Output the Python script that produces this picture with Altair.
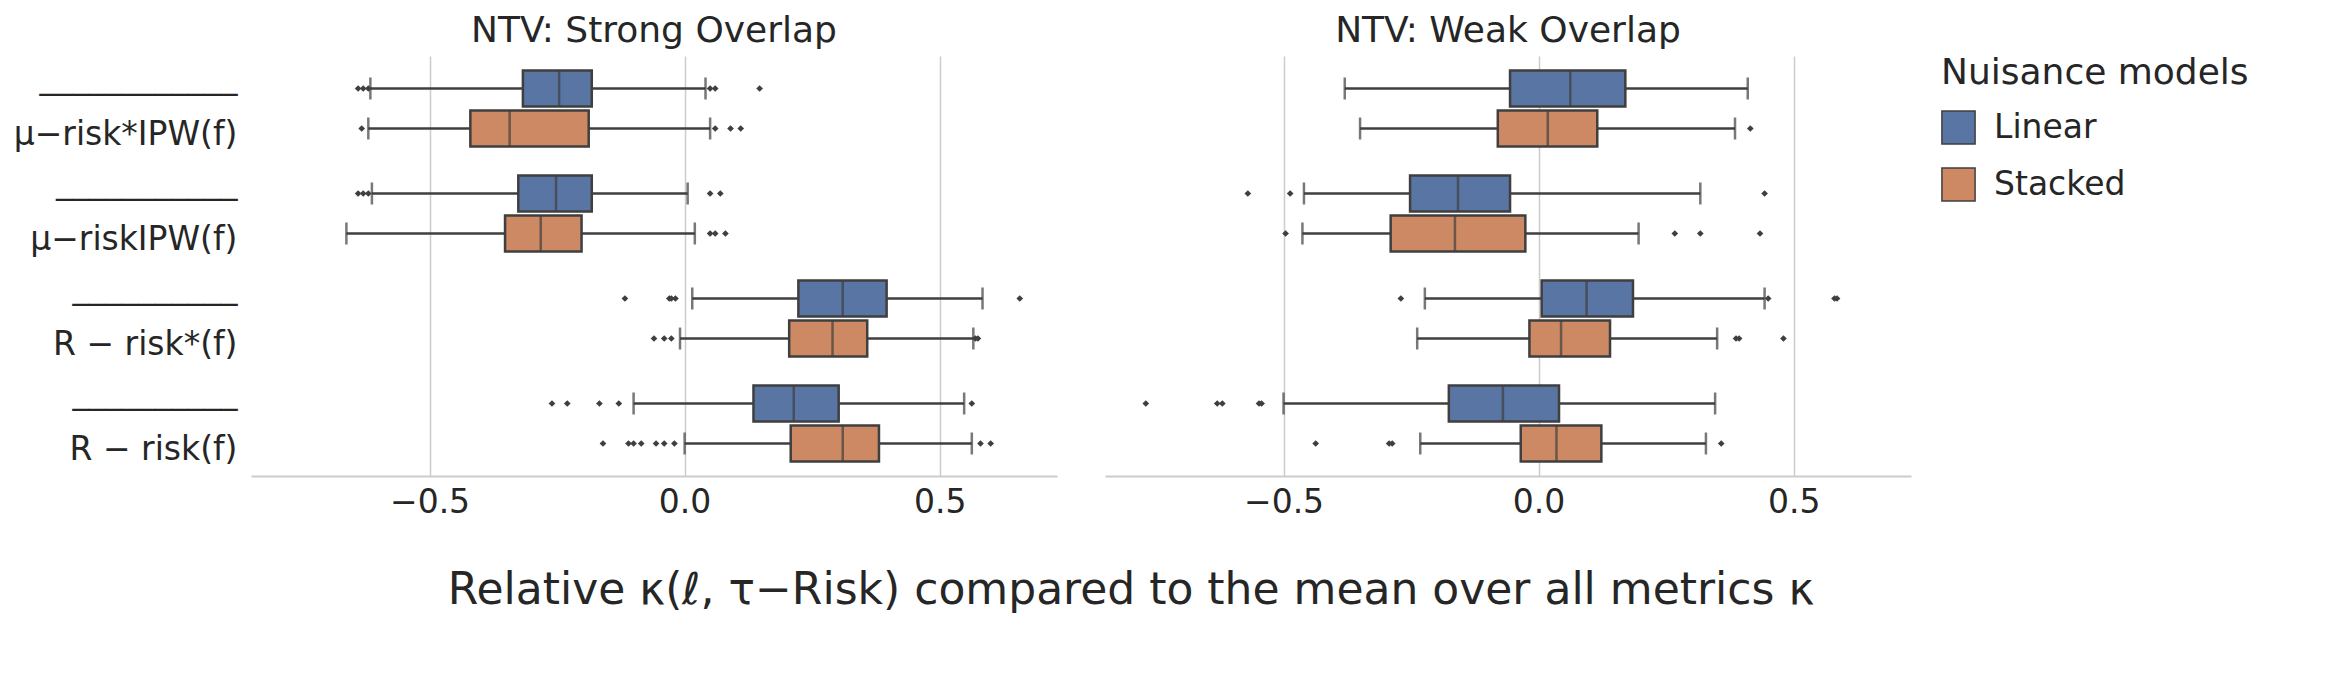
import altair as alt
import pandas as pd

metrics = ["mu_star", "mu", "r_star", "r"]
metric_labels = {
    "mu_star": "‾‾‾‾‾‾‾‾‾‾‾‾|μ−risk*IPW(f)",
    "mu": "‾‾‾‾‾‾‾‾‾‾‾|μ−riskIPW(f)",
    "r_star": "‾‾‾‾‾‾‾‾‾‾|R − risk*(f)",
    "r": "‾‾‾‾‾‾‾‾‾‾|R − risk(f)",
}
models = ["Linear", "Stacked"]
colors = ["#5975a4", "#cc8963"]

row_metric = ["mu_star", "mu_star", "mu", "mu", "r_star", "r_star", "r", "r"]
row_model = ["Linear", "Stacked"] * 4

# strong overlap stats
strong_lo = [-0.616, -0.62, -0.613, -0.663, 0.015, -0.009, -0.10, 0.0]
strong_q1 = [-0.317, -0.42, -0.326, -0.352, 0.223, 0.205, 0.135, 0.208]
strong_med = [-0.246, -0.343, -0.252, -0.282, 0.31, 0.29, 0.214, 0.31]
strong_q3 = [-0.182, -0.188, -0.182, -0.202, 0.396, 0.358, 0.302, 0.381]
strong_hi = [0.041, 0.05, 0.006, 0.02, 0.584, 0.566, 0.548, 0.563]
strong_out = [
    [-0.64, -0.63, -0.62, 0.05, 0.06, 0.147],
    [-0.633, 0.06, 0.09, 0.11],
    [-0.64, -0.63, -0.62, 0.05, 0.07],
    [0.05, 0.06, 0.08],
    [-0.117, -0.03, -0.026, -0.018, 0.657],
    [-0.06, -0.04, -0.026, 0.57, 0.575],
    [-0.26, -0.23, -0.167, -0.129, 0.563],
    [-0.16, -0.11, -0.1, -0.085, -0.056, -0.04, -0.02, 0.58, 0.6],
]

# weak overlap stats
weak_lo = [-0.38, -0.35, -0.46, -0.463, -0.223, -0.238, -0.50, -0.232]
weak_q1 = [-0.056, -0.08, -0.252, -0.29, 0.006, -0.018, -0.176, -0.035]
weak_med = [0.062, 0.018, -0.158, -0.164, 0.094, 0.044, -0.07, 0.035]
weak_q3 = [0.17, 0.115, -0.056, -0.026, 0.185, 0.14, 0.04, 0.123]
weak_hi = [0.41, 0.385, 0.317, 0.196, 0.443, 0.35, 0.346, 0.328]
weak_out = [
    [],
    [0.415],
    [-0.57, -0.487, 0.443],
    [-0.496, 0.267, 0.317, 0.434],
    [-0.27, 0.45, 0.58, 0.585],
    [0.387, 0.393, 0.48],
    [-0.77, -0.63, -0.62, -0.548, -0.543],
    [-0.437, -0.293, -0.287, 0.358],
]

x_domain = [-0.85, 0.73]
axis_font = 33
dark = "#3f3f3f"


def panel(title, lo, q1, med, q3, hi, outs, show_y):
    stats = pd.DataFrame({
        "metric": row_metric, "model": row_model,
        "lo": lo, "q1": q1, "med": med, "q3": q3, "hi": hi,
    })
    out_rows = [
        {"metric": m, "model": mo, "v": v}
        for m, mo, vals in zip(row_metric, row_model, outs) for v in vals
    ]
    outliers = pd.DataFrame(out_rows)

    label_map = "{" + ",".join(f"'{k}':'{v}'" for k, v in metric_labels.items()) + "}"
    y_axis = alt.Axis(
        title=None, ticks=False, domain=False, labelFontSize=axis_font, labelPadding=14,
        labelExpr=f"split({label_map}[datum.value], '|')", labelLimit=0,
        labelLineHeight=26, labelBaseline="middle",
    ) if show_y else None
    y = alt.Y("metric:N", sort=metrics, axis=y_axis, scale=alt.Scale(paddingInner=0.2, paddingOuter=0.1))
    yoff = alt.YOffset("model:N", sort=models, scale=alt.Scale(paddingInner=0.0, paddingOuter=0.05))
    xax = alt.Axis(title=None, values=[-0.5, 0.0, 0.5], format=".1f", labelFontSize=axis_font,
                   ticks=False, domain=True, domainColor="#cccccc", domainWidth=2, labelPadding=10,
                   grid=True, gridColor="#cccccc", gridWidth=1.5)
    x = alt.X("lo:Q", scale=alt.Scale(domain=x_domain, nice=False, zero=False), axis=xax)

    base = alt.Chart(stats).encode(y=y, yOffset=yoff)
    whisk = base.mark_rule(color=dark, strokeWidth=2.5).encode(x=x, x2="hi:Q")
    caps_lo = base.mark_tick(color=dark, thickness=2.5, size=22).encode(x="lo:Q")
    caps_hi = base.mark_tick(color=dark, thickness=2.5, size=22).encode(x="hi:Q")
    box = base.mark_bar(stroke=dark, strokeWidth=2.5, size=36).encode(
        x="q1:Q", x2="q3:Q",
        color=alt.Color("model:N", sort=models, scale=alt.Scale(domain=models, range=colors),
                        legend=alt.Legend(title="Nuisance models", titleFontSize=36, labelFontSize=33,
                                          titleFontWeight="normal", symbolType="square",
                                          symbolSize=1100, symbolStrokeColor=dark,
                                          symbolStrokeWidth=1.5, rowPadding=16, titlePadding=18,
                                          labelLimit=0, titleLimit=0, labelOffset=18)),
    )
    meds = base.mark_tick(color=dark, thickness=2.5, size=36).encode(x="med:Q")
    pts = alt.Chart(outliers).mark_point(shape="diamond", filled=True, color=dark, size=45, opacity=1).encode(
        x="v:Q", y=y, yOffset=yoff,
    )
    return alt.layer(whisk, caps_lo, caps_hi, box, meds, pts).properties(
        width=806, height=420,
        title=alt.TitleParams(title, fontSize=36, fontWeight="normal", color="#262626", offset=6),
    )


left = panel("NTV: Strong Overlap", strong_lo, strong_q1, strong_med, strong_q3, strong_hi, strong_out, True)
right = panel("NTV: Weak Overlap", weak_lo, weak_q1, weak_med, weak_q3, weak_hi, weak_out, False)

chart = (
    alt.hconcat(left, right, spacing=48)
    .properties(
        title=alt.TitleParams(
            "Relative κ(ℓ, τ−Risk) compared to the mean over all metrics κ",
            orient="bottom", anchor="middle", fontSize=44, fontWeight="normal", color="#262626", offset=50,
        )
    )
    .configure(font="DejaVu Sans")
    .configure_axis(labelColor="#262626")
    .configure_legend(labelColor="#262626", titleColor="#262626", orient="right", offset=30, padding=0)
    .configure_view(strokeWidth=0)
)

chart.save("out.html", embed_options={"renderer": "svg", "actions": False})
